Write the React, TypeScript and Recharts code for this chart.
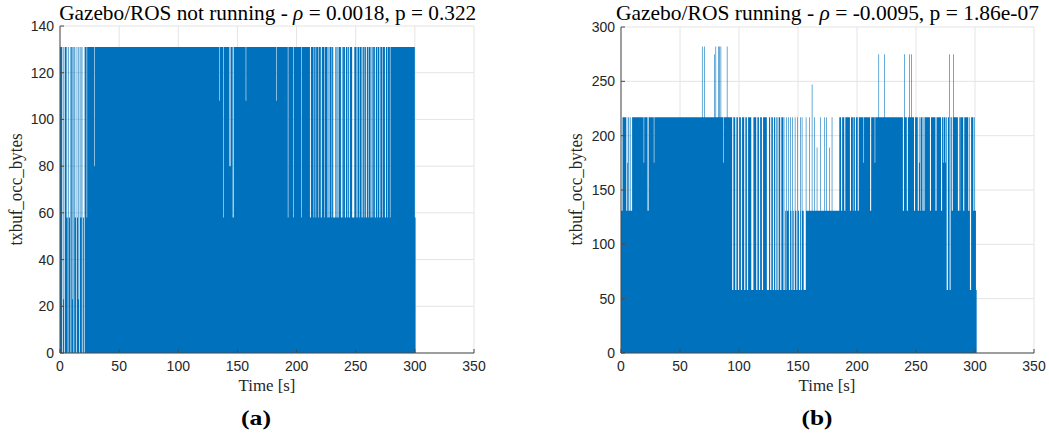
import React from "react";
import { ComposedChart, Area, XAxis, YAxis, CartesianGrid } from "recharts";

// ---------- shared axis data ----------
const xTicks = [0, 50, 100, 150, 200, 250, 300, 350];
const aYTicks = [0, 20, 40, 60, 80, 100, 120, 140];
const bYTicks = [0, 50, 100, 150, 200, 250, 300];

// ---------- panel (a): Gazebo/ROS not running ----------
// envelope (top of the dense trace) by time
const aBaseStart = [0, 300];
const aBaseLevel = [131, 58];
const aEnd = 300.6;
const aGapTo0 = [1.7, 3.6, 6.5, 8.9, 11.4, 13.5, 16.2, 18.5, 20.2];
const aGapTo23 = [2.6, 10.2, 15.2];
const aGapTo58 = [5.6, 7.6, 12.5, 14.6, 17.3, 19.4, 146.0, 211.3, 220.5, 226.2, 233.8, 237.5, 240.9, 244.2, 250.7, 255.0, 258.6, 262.6, 266.2, 270.0, 274.7];
const aWideTo58 = [231.0, 247.0];
const aFaintTo58 = [22.5, 137.9, 192.6, 197.1, 203.9, 214.4, 216.1, 218.3, 223.4, 227.6, 229.6, 235.2, 238.9, 242.8, 253.0, 256.9, 260.6, 264.3, 268.2, 272.4, 276.6, 278.9];
const aFaintTo80 = [28.8, 143.2, 144.0];
const aFaintTo108 = [134.5, 157.0, 182.7];

// ---------- panel (b): Gazebo/ROS running ----------
const bBaseStart = [0, 1.3, 139, 185, 300, 300.8];
const bBaseLevel = [131, 217, 131, 217, 131, 58];
const bEnd = 301.4;
const bGapTo131 = [4.5, 6.5, 8.5, 22.5, 186.5, 189.2, 194.0, 198.2, 200.6, 211.1, 238.9, 242.2, 248.3, 251.5, 255.5, 261.8, 266.5, 271.2, 280.3, 285.5, 290.0, 294.3, 298.6];
const bFaintTo131 = [7.6, 196.5, 253.5, 257.2, 287.0];
const bFaintTo175 = [5.3, 19.2, 27.8, 86.5, 205.5, 215.0, 252.5, 273.0, 274.6];
const bGapTo58 = [94.2, 96.8, 99.1, 101.6, 104.4, 106.7, 114.6, 116.9, 119.4, 126.4, 128.7, 130.7, 132.6, 134.9, 137.7, 139.6, 142.3, 144.4, 146.3, 148.6, 150.8, 152.5, 154.8, 155.8, 276.0, 278.3, 295.7];
const bWideTo58 = [110.4, 123.6];
const bSpikeTo217 = [140.0, 141.6, 143.3, 145.2, 147.3, 149.5, 151.8, 153.2, 156.6, 159.4, 163.9, 168.7, 172.4, 173.8, 178.6];
const bSpikeTo282 = [68.6, 70.5, 80.1, 82.4, 83.2, 84.4, 89.7];
const bSpikeTo275 = [79.0, 218.2, 222.9, 240.1, 244.1, 245.8, 278.0, 281.6];
const bSpikeTo247 = [161.7];
const bSpikeTo189 = [165.9, 176.6];

type Ev = { t: number; w: number; v: number };
const ev = (ts: number[], w: number, v: number): Ev[] => ts.map((t) => ({ t, w, v }));

function buildSeries(baseStart: number[], baseLevel: number[], end: number, events: Ev[]) {
  const baseAt = (x: number) => {
    let v = baseLevel[0];
    for (let i = 0; i < baseStart.length; i++) if (x >= baseStart[i]) v = baseLevel[i];
    return v;
  };
  const cuts = new Set<number>([...baseStart, end]);
  events.forEach((e) => {
    cuts.add(e.t);
    cuts.add(Math.round((e.t + e.w) * 1000) / 1000);
  });
  const times = Array.from(cuts).filter((x) => x <= end).sort((a, b) => a - b);
  return times.map((x) => {
    if (x >= end) return { t: x, v: 0 };
    let v = baseAt(x);
    events.forEach((e) => {
      if (x >= e.t - 1e-9 && x < e.t + e.w - 1e-9) v = e.v;
    });
    return { t: x, v };
  });
}

const aData = buildSeries(aBaseStart, aBaseLevel, aEnd, [
  ...ev(aGapTo58, 0.8, 58),
  ...ev(aWideTo58, 1.8, 58),
  ...ev(aFaintTo58, 0.45, 58),
  ...ev(aFaintTo80, 0.45, 80),
  ...ev(aFaintTo108, 0.45, 108),
  ...ev(aGapTo23, 0.4, 23),
  ...ev(aGapTo0, 0.6, 0),
]);

const bData = buildSeries(bBaseStart, bBaseLevel, bEnd, [
  ...ev(bGapTo131, 0.9, 131),
  ...ev(bFaintTo131, 0.45, 131),
  ...ev(bFaintTo175, 0.45, 175),
  ...ev(bGapTo58, 1.0, 58),
  ...ev(bWideTo58, 1.8, 58),
  ...ev(bSpikeTo217, 0.5, 217),
  ...ev(bSpikeTo282, 0.5, 282),
  ...ev(bSpikeTo275, 0.5, 275),
  ...ev(bSpikeTo247, 0.5, 247),
  ...ev(bSpikeTo189, 0.5, 189),
]);

const BLUE = "#0072BD";
const AXIS = "#4a4a4a";
const TICKFONT = { fontFamily: "'Liberation Sans', Arial, sans-serif", fontSize: 14, fill: "#262626" };

type PanelProps = {
  left: number;
  width: number;
  data: { t: number; v: number }[];
  yMax: number;
  yTicks: number[];
  margin: { top: number; right: number; bottom: number; left: number };
  yAxisWidth: number;
};

function Panel({ left, width, data, yMax, yTicks, margin, yAxisWidth }: PanelProps) {
  return (
    <div style={{ position: "absolute", left, top: 0 }}>
      <ComposedChart width={width} height={437} data={data} margin={margin}>
        <CartesianGrid stroke="#e4e4e4" strokeWidth={1} xAxisId="b" yAxisId="l" />
        <Area
          xAxisId="b"
          yAxisId="l"
          type="stepAfter"
          dataKey="v"
          fill={BLUE}
          fillOpacity={1}
          stroke="none"
          dot={false}
          activeDot={false}
          isAnimationActive={false}
        />
        <XAxis
          xAxisId="b"
          type="number"
          dataKey="t"
          domain={[0, 350]}
          ticks={xTicks}
          allowDataOverflow
          height={30}
          stroke={AXIS}
          tickSize={-4}
          tickMargin={12}
          tick={TICKFONT}
          interval={0}
        />
        <XAxis
          xAxisId="t"
          orientation="top"
          type="number"
          dataKey="t"
          domain={[0, 350]}
          ticks={xTicks}
          allowDataOverflow
          height={0}
          stroke={AXIS}
          tickSize={-4}
          tick={false}
          interval={0}
        />
        <YAxis
          yAxisId="l"
          type="number"
          domain={[0, yMax]}
          ticks={yTicks}
          allowDataOverflow
          width={yAxisWidth}
          stroke={AXIS}
          tickSize={-4}
          tickMargin={10}
          tick={TICKFONT}
          interval={0}
        />
        <YAxis
          yAxisId="r"
          orientation="right"
          type="number"
          domain={[0, yMax]}
          ticks={yTicks}
          allowDataOverflow
          width={0}
          stroke={AXIS}
          tickSize={-4}
          tick={false}
          interval={0}
        />
      </ComposedChart>
    </div>
  );
}

const SERIF = "'Liberation Serif', 'Times New Roman', serif";

export default function App() {
  return (
    <div style={{ position: "absolute", left: 0, top: 0, width: 1049, height: 437, background: "#fff" }}>
      <Panel
        left={0}
        width={524}
        data={aData}
        yMax={140}
        yTicks={aYTicks}
        margin={{ top: 26, right: 50, bottom: 54, left: 0 }}
        yAxisWidth={60}
      />
      <Panel
        left={540}
        width={509}
        data={bData}
        yMax={300}
        yTicks={bYTicks}
        margin={{ top: 27, right: 15, bottom: 54, left: 20 }}
        yAxisWidth={61}
      />
      <svg
        width={1049}
        height={437}
        style={{ position: "absolute", left: 0, top: 0, pointerEvents: "none" }}
      >
        <g fontFamily={SERIF} fill="#000">
          <text x={267.7} y={20} fontSize={21} textAnchor="middle" textLength={417} lengthAdjust="spacingAndGlyphs">
            Gazebo/ROS not running - <tspan fontStyle="italic">ρ</tspan> = 0.0018, p = 0.322
          </text>
          <text x={827.5} y={20} fontSize={21} textAnchor="middle" textLength={423} lengthAdjust="spacingAndGlyphs">
            Gazebo/ROS running - <tspan fontStyle="italic">ρ</tspan> = -0.0095, p = 1.86e-07
          </text>
          <text x={267} y={391} fontSize={17.5} textAnchor="middle" fill="#262626" textLength={57} lengthAdjust="spacingAndGlyphs">
            Time [s]
          </text>
          <text x={827} y={391} fontSize={17.5} textAnchor="middle" fill="#262626" textLength={57} lengthAdjust="spacingAndGlyphs">
            Time [s]
          </text>
          <text x={22} y={189.5} fontSize={18} textAnchor="middle" fill="#262626" transform="rotate(-90 22 189.5)" textLength={112} lengthAdjust="spacingAndGlyphs">
            txbuf_occ_bytes
          </text>
          <text x={582} y={189.5} fontSize={18} textAnchor="middle" fill="#262626" transform="rotate(-90 582 189.5)" textLength={112} lengthAdjust="spacingAndGlyphs">
            txbuf_occ_bytes
          </text>
          <text x={256} y={425} fontSize={21} fontWeight="bold" textAnchor="middle" textLength={30} lengthAdjust="spacingAndGlyphs">
            (a)
          </text>
          <text x={817} y={425} fontSize={21} fontWeight="bold" textAnchor="middle" textLength={31} lengthAdjust="spacingAndGlyphs">
            (b)
          </text>
        </g>
      </svg>
    </div>
  );
}
